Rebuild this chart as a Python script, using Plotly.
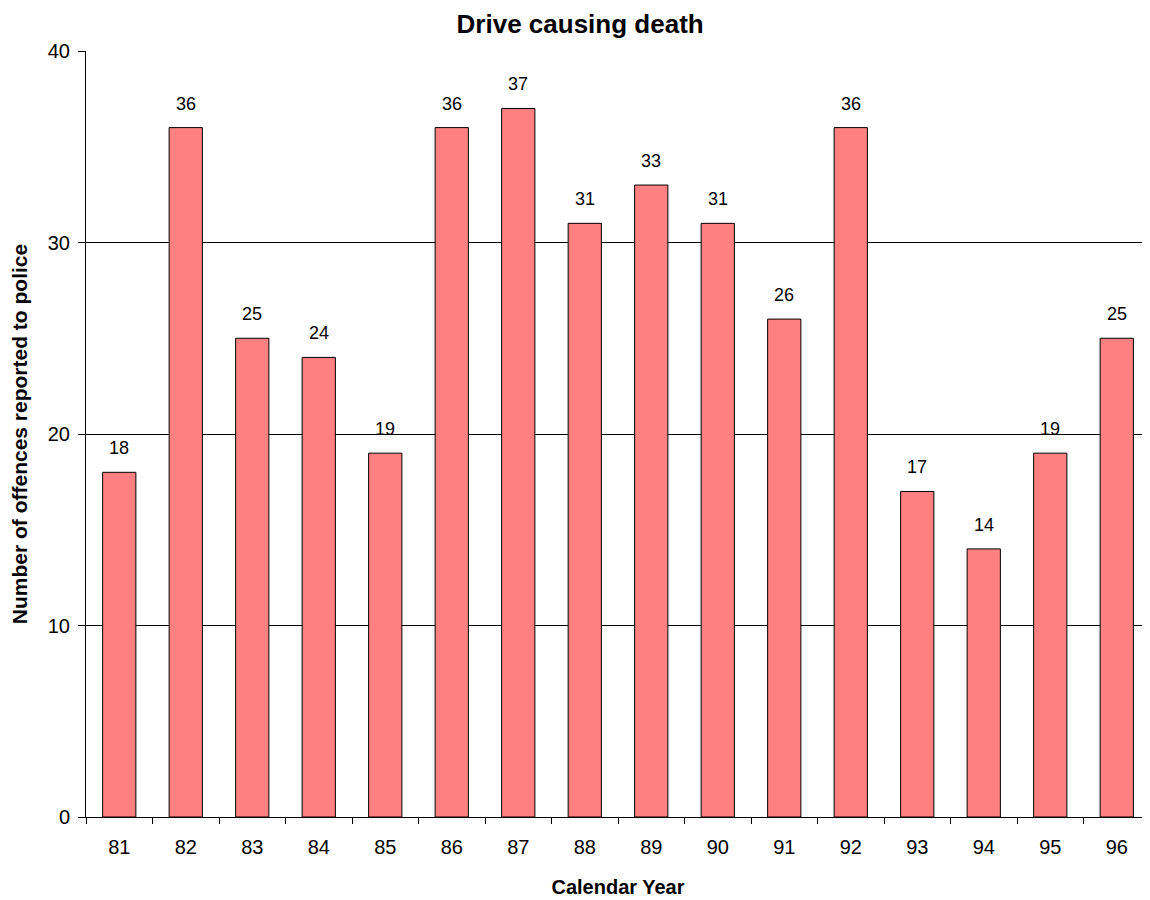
import plotly.graph_objects as go

years = ["81", "82", "83", "84", "85", "86", "87", "88",
         "89", "90", "91", "92", "93", "94", "95", "96"]
offences = [18, 36, 25, 24, 19, 36, 37, 31, 33, 31, 26, 36, 17, 14, 19, 25]

fig = go.Figure()
fig.add_trace(
    go.Bar(
        x=years,
        y=offences,
        marker=dict(color="#FF8080", line=dict(color="#000000", width=1)),
        hoverinfo="x+y",
        showlegend=False,
    )
)

# value labels sit a little above each bar, like the Excel original.
# numeric-looking category names get read as numbers, so place by index
for i, v in enumerate(offences):
    fig.add_annotation(
        x=i, y=v, text=str(v), showarrow=False,
        yanchor="bottom", yshift=12,
        font=dict(family="Arial, Liberation Sans", size=18, color="#000000"),
    )

# page body has an 8px margin, so the figure is 8px smaller on each axis
fig.update_layout(
    width=1142,
    height=892,
    margin=dict(l=78, r=0, t=43, b=83),
    paper_bgcolor="white",
    plot_bgcolor="white",
    bargap=0.5,
    font=dict(family="Arial, Liberation Sans", color="#000000"),
    title=dict(
        text="<b>Drive causing death</b>",
        x=0.501, xanchor="center", y=0.982, yanchor="middle",
        font=dict(size=26),
    ),
)

fig.update_xaxes(
    type="category",
    range=[-0.5, len(years) - 0.5],
    title=dict(text="<b>Calendar Year</b>", font=dict(size=20), standoff=22),
    tickfont=dict(size=20),
    tickangle=0,
    ticklabelstandoff=12,
    showline=True, linecolor="#000000", linewidth=1,
    ticks="outside", tickson="boundaries", ticklen=6, tickcolor="#000000",
    showgrid=False,
)
fig.update_yaxes(
    title=dict(text="<b>Number of offences reported to police</b>",
               font=dict(size=21), standoff=24),
    range=[0, 40],
    tickvals=[0, 10, 20, 30, 40],
    tickfont=dict(size=20),
    ticklabelstandoff=4,
    showline=True, linecolor="#000000", linewidth=1,
    ticks="outside", ticklen=7, tickcolor="#000000",
    showgrid=True, gridcolor="#000000", gridwidth=1,
    zeroline=False,
)

fig.write_html("out.html")
